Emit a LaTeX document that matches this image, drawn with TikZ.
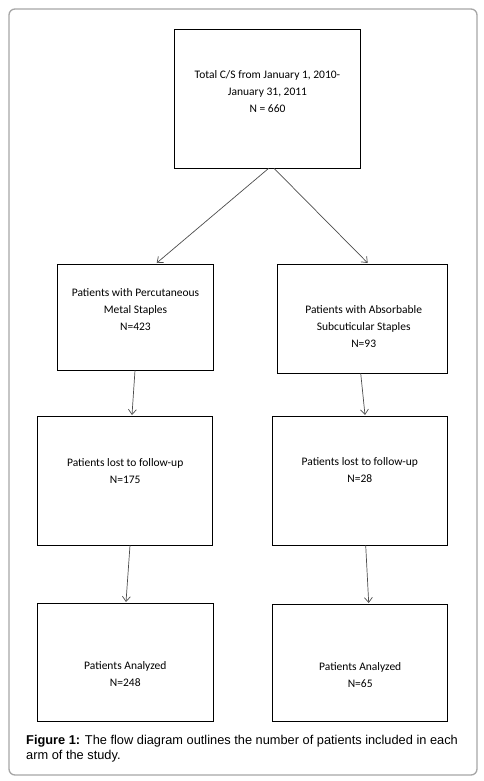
\documentclass[tikz,border=0pt]{standalone}
\usepackage{fontspec}
\setmainfont{Carlito}
\newfontfamily\capfont{Liberation Sans}
\usetikzlibrary{arrows.meta}
\begin{document}
\begin{tikzpicture}[x=1pt,y=-1pt,
  box/.style={draw=black, line width=1.1pt, minimum width=#1, inner sep=0pt},
  boxtext/.style={align=center, font=\fontsize{11.5}{17}\selectfont, inner sep=0pt},
  conn/.style={draw=black!70, line width=0.7pt, -{Straight Barb[length=5pt,width=8pt]}}]
\useasboundingbox (0,0) rectangle (484,781);
\draw[draw=black!35, line width=1.3pt, rounded corners=6pt] (9,9) rectangle (477,775);
% boxes
\node[box=186.4pt, minimum height=139pt] (top) at (267.5,98.8) {};
\node[box=156pt, minimum height=106pt] (l1) at (135.3,317.3) {};
\node[box=170pt, minimum height=109pt] (r1) at (362.3,318.8) {};
\node[box=175.4pt, minimum height=129.3pt] (l2) at (125,480.7) {};
\node[box=175.4pt, minimum height=129.3pt] (r2) at (360,480.7) {};
\node[box=176pt, minimum height=118pt] (l3) at (125.3,662.3) {};
\node[box=175.4pt, minimum height=117pt] (r3) at (360,662.8) {};
% texts
\node[boxtext] (ttop) at (267.5,92) {Total C/S from January 1, 2010-\\January 31, 2011\\N = 660};
\node[boxtext] (tl1) at (135.5,310) {Patients with Percutaneous\\Metal Staples\\N=423};
\node[boxtext] (tr1) at (363.7,327) {Patients with Absorbable\\Subcuticular Staples\\N=93};
\node[boxtext] (tl2) at (125.2,470.7) {Patients lost to follow-up\\N=175};
\node[boxtext] (tr2) at (359.8,470.5) {Patients lost to follow-up\\N=28};
\node[boxtext] (tl3) at (125.3,674) {Patients Analyzed\\N=248};
\node[boxtext] (tr3) at (360.2,675) {Patients Analyzed\\N=65};
% arrow end points
\coordinate (s1) at (268.7,168.3);
\coordinate (s2) at (274,168.3);
\coordinate (e1) at (156.7,263);
\coordinate (e2) at (367.7,263);
\coordinate (s3) at (135,370.3);
\coordinate (e3) at (132,415);
\coordinate (s4) at (360.7,373.3);
\coordinate (e4) at (365,415);
\coordinate (s5) at (130,545.3);
\coordinate (e5) at (126,602);
\coordinate (s6) at (365.7,545.3);
\coordinate (e6) at (368.7,603);
\draw[conn] (s1) -- (e1);
\draw[conn] (s2) -- (e2);
\draw[conn] (s3) -- (e3);
\draw[conn] (s4) -- (e4);
\draw[conn] (s5) -- (e5);
\draw[conn] (s6) -- (e6);
% caption
\node[anchor=west, align=left, inner sep=0pt, font=\capfont\fontsize{12.8}{15}\selectfont] (cap) at (26,748.5)
  {\textbf{Figure 1:} The flow diagram outlines the number of patients included in each\\arm of the study.};
\end{tikzpicture}
\end{document}
